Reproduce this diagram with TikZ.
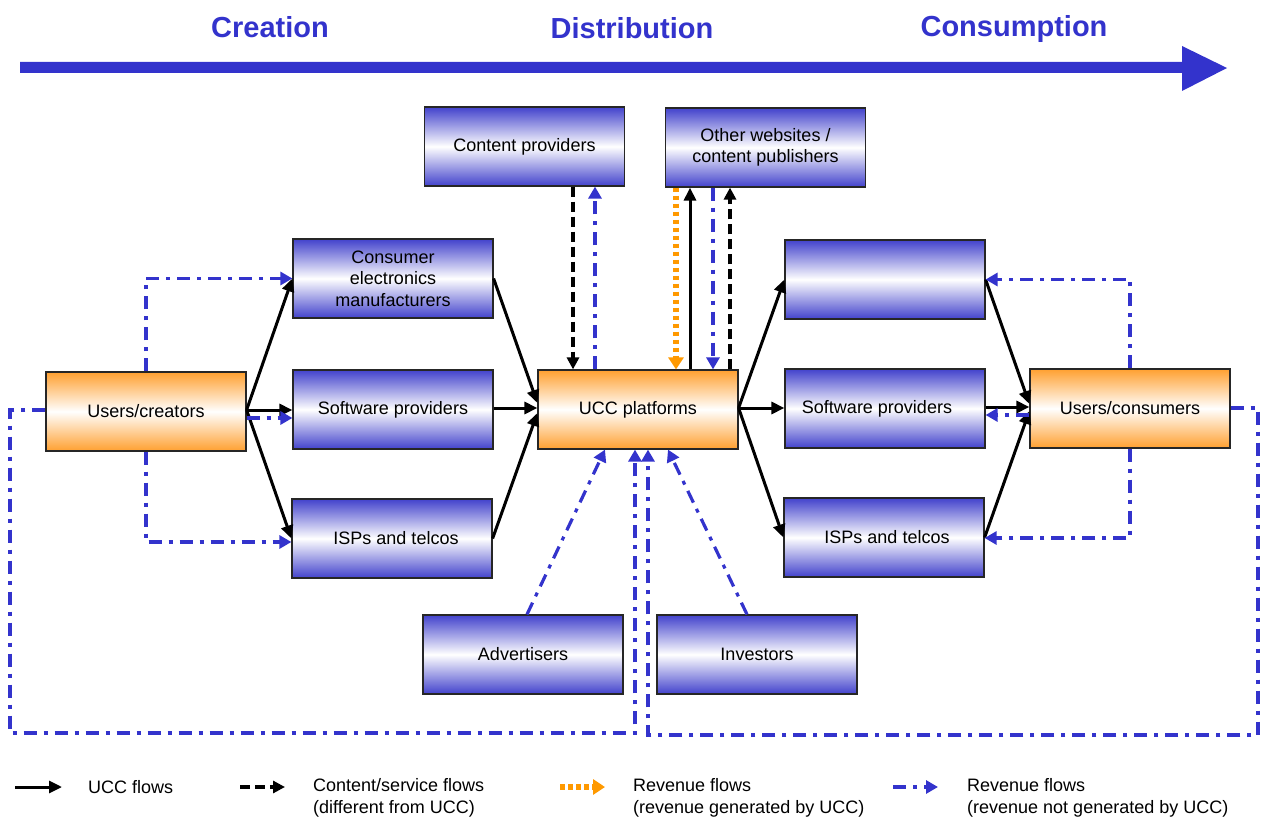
\documentclass[tikz,border=0pt]{standalone}
\usepackage{fontspec}
\setmainfont{Liberation Sans}
\usetikzlibrary{arrows.meta,calc}
\definecolor{hdrblue}{RGB}{51,51,204}
\definecolor{boxblue}{RGB}{66,66,204}
\definecolor{boxorange}{RGB}{255,160,48}
\definecolor{revorange}{RGB}{255,153,0}
\definecolor{revblue}{RGB}{51,51,204}
\begin{document}
\begin{tikzpicture}[x=1pt,y=-1pt,
 box/.style={draw=black!85, line width=1.2pt, minimum width=200pt, minimum height=79pt, inner sep=0pt, align=center, font=\fontsize{18}{21.5}\selectfont, text=black},
 bluebox/.style={box, top color=boxblue, bottom color=boxblue, middle color=white},
 orangebox/.style={box, top color=boxorange, bottom color=boxorange, middle color=white},
 uccflow/.style={line width=3pt, black, -{Triangle[length=13pt,width=12pt]}},
 contentflow/.style={line width=3.6pt, black, dash pattern=on 10pt off 5pt, -{Triangle[length=12pt,width=12pt]}},
 revucc/.style={line width=5.5pt, revorange, dash pattern=on 4.5pt off 3.5pt, -{Triangle[length=12pt,width=15pt]}},
 revnot/.style={line width=3.2pt, revblue, dash pattern=on 13pt off 7pt on 4pt off 7pt, -{Triangle[length=12pt,width=13pt]}},
 hdr/.style={font=\bfseries\fontsize{29}{32}\selectfont, text=hdrblue, anchor=base, inner sep=0pt},
 leg/.style={font=\fontsize{18}{22}\selectfont, align=left, anchor=west, inner sep=0pt}
]
\useasboundingbox (0,0) rectangle (1262,821);

% top arrow
\fill[hdrblue] (20,62) -- (1182,62) -- (1182,46) -- (1227,68) -- (1182,91) -- (1182,73) -- (20,73) -- cycle;
\node[hdr] (hc) at (270,37.5) {Creation};
\node[hdr] (hd) at (632,38.5) {Distribution};
\node[hdr] (hs) at (1014,36.5) {Consumption};

% boxes
\node[bluebox] (cp) at (524.5,146.5) {Content providers};
\node[bluebox] (ow) at (765.5,147.5) {Other websites /\\content publishers};
\node[bluebox] (ce) at (393,278.5) {Consumer\\electronics\\manufacturers};
\node[bluebox] (swl) at (393,409.5) {Software providers};
\node[bluebox] (ispl) at (392,538.5) {\hspace*{8pt}ISPs and telcos};
\node[orangebox] (uc) at (146,411.5) {Users/creators};
\node[orangebox] (ucc) at (638,409.5) {UCC platforms};
\node[bluebox] (rt) at (885,279.5) {};
\node[bluebox] (swr) at (885,408.5) {Software providers\hspace*{16pt}};
\node[bluebox] (ispr) at (884,537.5) {\hspace*{6pt}ISPs and telcos};
\node[orangebox] (ucons) at (1130,408.5) {Users/consumers};
\node[bluebox] (adv) at (523,654.5) {Advertisers};
\node[bluebox] (inv) at (757,654.5) {Investors};

% UCC flows
\draw[uccflow] (uc.east |- 0,410) -- (ce.west);
\draw[uccflow] (uc.east |- 0,410) -- (swl.west |- 0,410);
\draw[uccflow] (uc.east |- 0,410) -- (ispl.west);
\draw[uccflow] (ce.east) -- (ucc.west |- 0,403);
\draw[uccflow] (swl.east |- 0,408) -- (ucc.west |- 0,408);
\draw[uccflow] (ispl.east) -- (ucc.west |- 0,413);
\draw[uccflow] (ucc.east |- 0,408) -- (rt.west);
\draw[uccflow] (ucc.east |- 0,408) -- (swr.west |- 0,408);
\draw[uccflow] (ucc.east |- 0,408) -- (ispr.west);
\draw[uccflow] (rt.east) -- (ucons.west |- 0,404);
\draw[uccflow] (swr.east |- 0,407) -- (ucons.west |- 0,407);
\draw[uccflow] (ispr.east) -- (ucons.west |- 0,411);
\draw[uccflow] (ucc.north -| 690,0) -- (ow.south -| 690,0);

% content flows
\draw[contentflow] (cp.south -| 573,0) -- (ucc.north -| 573,0);
\draw[contentflow] (ucc.north -| 730,0) -- (ow.south -| 730,0);

% revenue generated by UCC
\draw[revucc] (ow.south -| 676,0) -- (ucc.north -| 676,0);

% revenue not generated by UCC
\draw[revnot] (ucc.north -| 595,0) -- (cp.south -| 595,0);
\draw[revnot] (ow.south -| 713,0) -- (ucc.north -| 713,0);
\draw[revnot] (uc.east |- 0,418) -- (swl.west |- 0,418);
\draw[revnot] (uc.north) |- (ce.west);
\draw[revnot] (uc.south) |- (ispl.west |- 0,542);
\coordinate (l1) at (10,410);
\coordinate (l2) at (10,733);
\coordinate (l3) at (635,733);
\draw[revnot] (uc.west |- 0,410) -- (l1) -- (l2) -- (l3) -- (ucc.south -| 635,0);
\coordinate (r1) at (1258,408);
\coordinate (r2) at (1258,735);
\coordinate (r3) at (648,735);
\draw[revnot] (ucons.east |- 0,408) -- (r1) -- (r2) -- (r3) -- (ucc.south -| 648,0);
\draw[revnot] (ucons.north) |- (rt.east);
\draw[revnot] (ucons.west |- 0,415) -- (swr.east |- 0,415);
\draw[revnot] (ucons.south) |- (ispr.east |- 0,538);
\draw[revnot] (adv.north -| 527,0) -- (ucc.south -| 605,0);
\draw[revnot] (inv.north -| 747,0) -- (ucc.south -| 668,0);

% legend
\coordinate (a1) at (15,787); \coordinate (b1) at (62,787);
\coordinate (a2) at (240,787); \coordinate (b2) at (285,787);
\coordinate (a3) at (560,787); \coordinate (b3) at (605,787);
\coordinate (a4) at (893,787); \coordinate (b4) at (938,787);
\draw[uccflow] (a1) -- (b1);
\draw[contentflow] (a2) -- (b2);
\draw[revucc] (a3) -- (b3);
\draw[revnot] (a4) -- (b4);
\node[leg] (t1) at (88,787) {UCC flows};
\node[leg] (t2) at (313,798) {Content/service flows\\(different from UCC)};
\node[leg] (t3) at (633,798) {Revenue flows\\(revenue generated by UCC)};
\node[leg] (t4) at (967,798) {Revenue flows\\(revenue not generated by UCC)};
\end{tikzpicture}
\end{document}
